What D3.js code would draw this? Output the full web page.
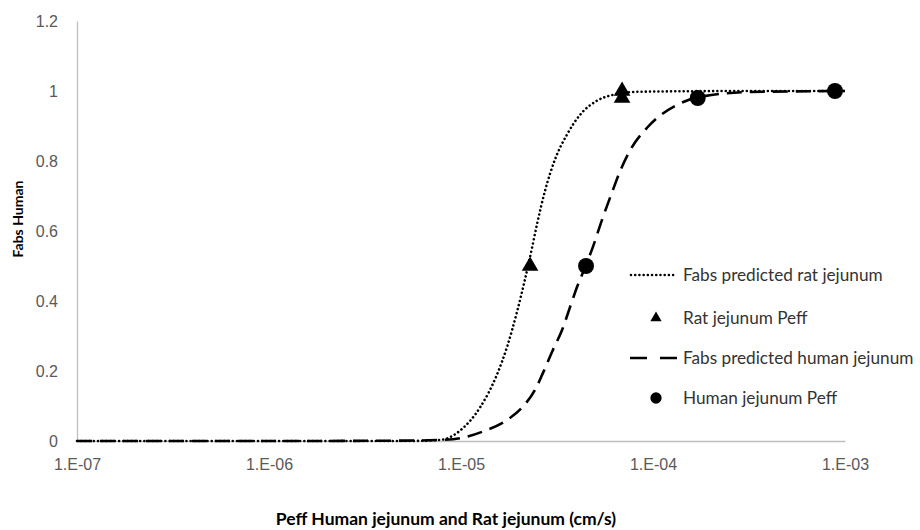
<!DOCTYPE html>
<html>
<head>
<meta charset="utf-8">
<script src="https://cdn.jsdelivr.net/npm/d3@7"></script>
<style>
  body { margin: 0; background: #fff; }
  svg { font-family: Lato, "Open Sans", sans-serif; }
</style>
</head>
<body>
<div id="chart"></div>
<script>
'use strict';

// values (Peff in cm/s, Fabs)
var ratCurvePeff = [1e-7, 1e-6, 5.0e-6, 7.8e-6, 9.9e-6, 1.26e-5, 1.54e-5, 1.74e-5, 1.96e-5, 2.15e-5, 2.34e-5, 2.49e-5, 2.74e-5, 3.09e-5, 3.56e-5, 4.17e-5, 5.1e-5, 6.2e-5, 8.55e-5, 3.2e-4, 1e-3];
var ratCurveFabs = [0, 0, 0, 0.003, 0.03, 0.097, 0.19, 0.27, 0.37, 0.46, 0.55, 0.62, 0.715, 0.805, 0.875, 0.932, 0.972, 0.989, 0.998, 1.0, 1.0];

var humanCurvePeff = [1e-7, 1e-6, 5e-6, 7.8e-6, 9.9e-6, 1.3e-5, 1.74e-5, 2.1e-5, 2.43e-5, 2.67e-5, 3.01e-5, 3.36e-5, 3.70e-5, 4.02e-5, 4.48e-5, 4.86e-5, 5.42e-5, 6.19e-5, 6.73e-5, 7.59e-5, 9.31e-5, 1.09e-4, 1.33e-4, 1.71e-4, 3.2e-4, 1e-3];
var humanCurveFabs = [0, 0, 0.001, 0.003, 0.008, 0.027, 0.06, 0.098, 0.146, 0.194, 0.26, 0.317, 0.383, 0.44, 0.503, 0.554, 0.631, 0.718, 0.77, 0.83, 0.895, 0.93, 0.96, 0.982, 0.997, 1.0];

var ratPointsPeff = [2.29e-5, 6.9e-5, 6.9e-5];
var ratPointsFabs = [0.5, 1.0, 0.98];

var humanPointsPeff = [4.48e-5, 1.71e-4, 8.87e-4];
var humanPointsFabs = [0.5, 0.98, 1.0];

var xTicks = [1e-7, 1e-6, 1e-5, 1e-4, 1e-3];
var xTickLabels = ['1.E-07', '1.E-06', '1.E-05', '1.E-04', '1.E-03'];
var yTicks = [0, 0.2, 0.4, 0.6, 0.8, 1, 1.2];

var legendLabels = ['Fabs predicted rat jejunum', 'Rat jejunum Peff', 'Fabs predicted human jejunum', 'Human jejunum Peff'];

var width = 920, height = 530;
var margin = { left: 77, right: 75, top: 21, bottom: 89 };

var svg = d3.select('#chart').append('svg').attr('width', width).attr('height', height);

var x = d3.scaleLog().domain([1e-7, 1e-3]).range([margin.left, width - margin.right]);
var y = d3.scaleLinear().domain([0, 1.2]).range([height - margin.bottom, margin.top]);

// axes
var xAxis = svg.append('g').attr('transform', 'translate(0,' + y(0) + ')')
  .call(d3.axisBottom(x).tickValues(xTicks).tickFormat(function (d, i) { return xTickLabels[i]; }).tickSize(0).tickPadding(18));
var yAxis = svg.append('g').attr('transform', 'translate(' + x(1e-7) + ',0)')
  .call(d3.axisLeft(y).tickValues(yTicks).tickFormat(function (d) { return d3.format('')(d); }).tickSize(0).tickPadding(19));

[xAxis, yAxis].forEach(function (g) {
  g.select('.domain').attr('stroke', '#bfbfbf').attr('stroke-width', 1.3);
  g.selectAll('text').attr('fill', '#595959').style('font-size', '16px');
});

svg.append('text').attr('x', 446).attr('y', 525).attr('text-anchor', 'middle')
  .style('font-size', '17.5px').style('font-weight', 'bold').attr('fill', '#000')
  .text('Peff Human jejunum and Rat jejunum (cm/s)');
svg.append('text').attr('transform', 'translate(23,219) rotate(-90)').attr('text-anchor', 'middle')
  .style('font-size', '14px').style('font-weight', 'bold').attr('fill', '#000')
  .text('Fabs Human');

// curves
var line = d3.line()
  .x(function (d) { return x(d[0]); })
  .y(function (d) { return y(d[1]); })
  .curve(d3.curveMonotoneX);

var ratCurve = d3.zip(ratCurvePeff, ratCurveFabs);
var humanCurve = d3.zip(humanCurvePeff, humanCurveFabs);

var dotted = { dash: '0.01,4.2', width: 2.6 };
var dashed = { dash: '15,8', width: 2.6 };

svg.append('path').datum(humanCurve).attr('d', line).attr('fill', 'none')
  .attr('stroke', '#000').attr('stroke-width', dashed.width).attr('stroke-dasharray', dashed.dash);
svg.append('path').datum(ratCurve).attr('d', line).attr('fill', 'none')
  .attr('stroke', '#000').attr('stroke-width', dotted.width).attr('stroke-dasharray', dotted.dash)
  .attr('stroke-linecap', 'round');

// markers
var tri = d3.symbol().type(d3.symbolTriangle).size(120);
var circ = d3.symbol().type(d3.symbolCircle).size(200);

svg.selectAll('.rat').data(d3.zip(ratPointsPeff, ratPointsFabs)).enter().append('path')
  .attr('class', 'rat').attr('d', tri)
  .attr('transform', function (d) { return 'translate(' + x(d[0]) + ',' + y(d[1]) + ')'; })
  .attr('fill', '#000');
svg.selectAll('.human').data(d3.zip(humanPointsPeff, humanPointsFabs)).enter().append('path')
  .attr('class', 'human').attr('d', circ)
  .attr('transform', function (d) { return 'translate(' + x(d[0]) + ',' + y(d[1]) + ')'; })
  .attr('fill', '#000');

// legend
var legend = svg.append('g');
var legY = [275, 318, 358, 398];
legendLabels.forEach(function (label, i) {
  var g = legend.append('g').attr('transform', 'translate(630,' + legY[i] + ')');
  if (i === 0) {
    g.append('line').attr('x1', 1).attr('x2', 46).attr('stroke', '#000')
      .attr('stroke-width', dotted.width).attr('stroke-dasharray', dotted.dash).attr('stroke-linecap', 'round');
  } else if (i === 2) {
    g.append('line').attr('x1', 0).attr('x2', 48).attr('stroke', '#000')
      .attr('stroke-width', dashed.width).attr('stroke-dasharray', '17,13');
  } else {
    g.append('path').attr('d', i === 1 ? d3.symbol().type(d3.symbolTriangle).size(55)() : d3.symbol().type(d3.symbolCircle).size(100)())
      .attr('transform', 'translate(26,0)').attr('fill', '#000');
  }
  g.append('text').attr('x', 53).attr('dy', '0.35em').style('font-size', '17.2px').attr('fill', '#333').text(label);
});
</script>
</body>
</html>
